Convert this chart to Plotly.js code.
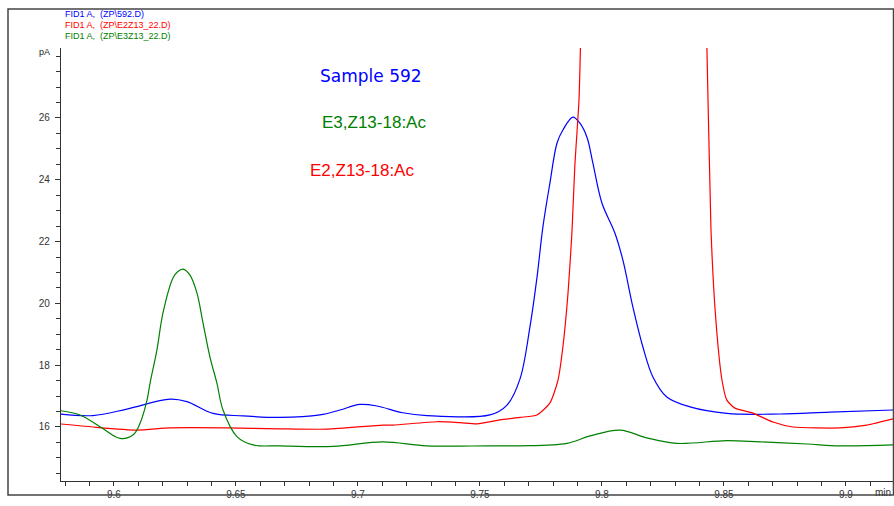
<!DOCTYPE html>
<html>
<head>
<meta charset="utf-8">
<script src="https://cdn.plot.ly/plotly-3.0.1.min.js"></script>
<style>html,body{margin:0;padding:0;background:#fff;}#chart{width:894px;height:506px;}</style>
</head>
<body>
<div id="chart"></div>
<script>
// ---- data (retention time, min ; signal, pA) ----
const blueX = [9.5779,9.5914,9.6053,9.6230,9.6299,9.6406,9.6529,9.6680,9.6844,9.6926,9.7008,9.7078,9.7184,9.7283,9.7541,9.7611,9.7664,9.7705,9.7734,9.7758,9.7787,9.7816,9.7840,9.7881,9.7910,9.7939,9.7963,9.8000,9.8053,9.8086,9.8127,9.8168,9.8209,9.8266,9.8361,9.8512,9.8730,9.8934,9.9193];
const blueY = [16.42,16.37,16.58,16.90,16.82,16.44,16.36,16.31,16.39,16.55,16.73,16.68,16.46,16.37,16.39,16.71,17.55,19.24,20.85,22.47,23.90,25.19,25.61,26.03,25.83,25.37,24.54,23.25,22.28,21.40,19.88,18.59,17.62,16.97,16.65,16.44,16.42,16.48,16.55];

const redX = [9.5779,9.5914,9.6094,9.6230,9.6463,9.6680,9.6873,9.7102,9.7143,9.7324,9.7418,9.7488,9.7582,9.7664,9.7734,9.7787,9.7820,9.7840,9.7861,9.7877,9.7889,9.7906,9.7912,9.7930,9.8000,9.8150,9.8300,9.8400,9.8430,9.8447,9.8467,9.8492,9.8512,9.8545,9.8619,9.8701,9.8783,9.8975,9.9086,9.9193];
const redY = [16.10,16.00,15.90,15.97,15.97,15.94,15.93,16.06,16.06,16.17,16.14,16.10,16.23,16.31,16.39,16.78,17.52,18.59,20.33,22.28,24.45,26.58,28.30,36.0,60.0,80.0,60.0,35.0,28.36,22.38,19.46,17.52,16.87,16.61,16.45,16.16,16.00,15.97,16.06,16.26];

const greenX = [9.5779,9.5861,9.5943,9.6025,9.6078,9.6107,9.6135,9.6148,9.6176,9.6201,9.6242,9.6262,9.6283,9.6311,9.6340,9.6365,9.6393,9.6422,9.6447,9.6504,9.6570,9.6680,9.6898,9.7102,9.7283,9.7541,9.7664,9.7857,9.7951,9.8074,9.8184,9.8307,9.8512,9.8648,9.8840,9.8975,9.9193];
const greenY = [16.53,16.39,16.01,15.63,15.74,16.12,16.85,17.42,18.49,19.69,20.82,21.03,21.11,20.92,20.34,19.37,18.28,17.42,16.55,15.69,15.42,15.39,15.37,15.52,15.39,15.39,15.39,15.47,15.71,15.90,15.65,15.47,15.56,15.52,15.45,15.39,15.42];

const legendLabels = ["FID1 A,  (ZP\\592.D)", "FID1 A,  (ZP\\E2Z13_22.D)", "FID1 A,  (ZP\\E3Z13_22.D)"];
const peakLabels = ["Sample 592", "E3,Z13-18:Ac", "E2,Z13-18:Ac"];

const BLUE = "#0000ff", RED = "#ff0000", GREEN = "#008000";

// pixel -> paper helpers (plot area: x 61..893, y 48..481)
const L = 61, R = 893, T = 48, B = 481;
const px = x => (x - L) / (R - L);
const py = y => (B - y) / (B - T);

const traces = [
  {x: blueX, y: blueY, mode: "lines", line: {color: BLUE, width: 1.2, shape: "spline", smoothing: 1}, hoverinfo: "skip"},
  {x: redX, y: redY, mode: "lines", line: {color: RED, width: 1.2, shape: "spline", smoothing: 0.6}, hoverinfo: "skip"},
  {x: greenX, y: greenY, mode: "lines", line: {color: GREEN, width: 1.2, shape: "spline", smoothing: 1}, hoverinfo: "skip"}
];

const annotations = [
  {text: legendLabels[0], x: px(63), y: py(14), color: BLUE},
  {text: legendLabels[1], x: px(63), y: py(25), color: RED},
  {text: legendLabels[2], x: px(63), y: py(36), color: GREEN}
].map(a => ({text: a.text, xref: "paper", yref: "paper", x: a.x, y: a.y, xanchor: "left", yanchor: "middle",
  showarrow: false, font: {family: "Liberation Sans, Arial, sans-serif", size: 9, color: a.color}}));

annotations.push(
  {text: peakLabels[0], xref: "paper", yref: "paper", x: px(371), y: py(76), xanchor: "center", yanchor: "middle", showarrow: false,
   font: {family: "Comic Sans MS, DejaVu Sans, sans-serif", size: 17, color: BLUE}},
  {text: peakLabels[1], xref: "paper", yref: "paper", x: px(374), y: py(122), xanchor: "center", yanchor: "middle", showarrow: false,
   font: {family: "Liberation Sans, Arial, sans-serif", size: 17, color: GREEN}},
  {text: peakLabels[2], xref: "paper", yref: "paper", x: px(362), y: py(170), xanchor: "center", yanchor: "middle", showarrow: false,
   font: {family: "Liberation Sans, Arial, sans-serif", size: 17, color: RED}},
  {text: "pA", xref: "paper", yref: "paper", x: px(52), y: py(52), xanchor: "right", yanchor: "middle", showarrow: false,
   font: {family: "Liberation Sans, Arial, sans-serif", size: 9, color: "#222"}},
  {text: "min", xref: "paper", yref: "paper", x: px(893), y: py(492), xanchor: "right", yanchor: "middle", showarrow: false,
   font: {family: "Liberation Sans, Arial, sans-serif", size: 10, color: "#333"}}
);

const layout = {
  width: 894, height: 506,
  margin: {l: L, r: 894 - R, t: T, b: 506 - B, pad: 0},
  paper_bgcolor: "#fff", plot_bgcolor: "#fff",
  showlegend: false,
  xaxis: {
    range: [9.5783, 9.9193], tickvals: [9.6, 9.65, 9.7, 9.75, 9.8, 9.85, 9.9],
    ticktext: ["9.6", "9.65", "9.7", "9.75", "9.8", "9.85", "9.9"],
    ticks: "outside", ticklen: 4, tickcolor: "#333", tickwidth: 1,
    minor: {dtick: 0.01, tick0: 9.6, ticks: "outside", ticklen: 4, tickcolor: "#333", tickwidth: 1},
    showgrid: false, zeroline: false, showline: true, linecolor: "#333", linewidth: 1.2,
    tickfont: {family: "Liberation Sans, Arial, sans-serif", size: 10, color: "#333"},
    ticklabelstandoff: 0, fixedrange: true
  },
  yaxis: {
    range: [14.252, 28.265], tickvals: [16, 18, 20, 22, 24, 26],
    ticks: "outside", ticklen: 5, tickcolor: "#333", tickwidth: 1,
    minor: {dtick: 0.5, tick0: 14, ticks: "outside", ticklen: 4, tickcolor: "#333", tickwidth: 1},
    showgrid: false, zeroline: false, showline: true, linecolor: "#333", linewidth: 1.2,
    tickfont: {family: "Liberation Sans, Arial, sans-serif", size: 10, color: "#333"},
    ticklabelstandoff: 3, fixedrange: true
  },
  shapes: [
    {type: "rect", xref: "paper", yref: "paper", x0: px(8), x1: px(893.5), y0: py(495), y1: py(9),
     line: {color: "#444", width: 1.5}, fillcolor: "rgba(0,0,0,0)", layer: "above"}
  ],
  annotations: annotations
};

Plotly.newPlot("chart", traces, layout, {displayModeBar: false, staticPlot: true});
</script>
</body>
</html>
